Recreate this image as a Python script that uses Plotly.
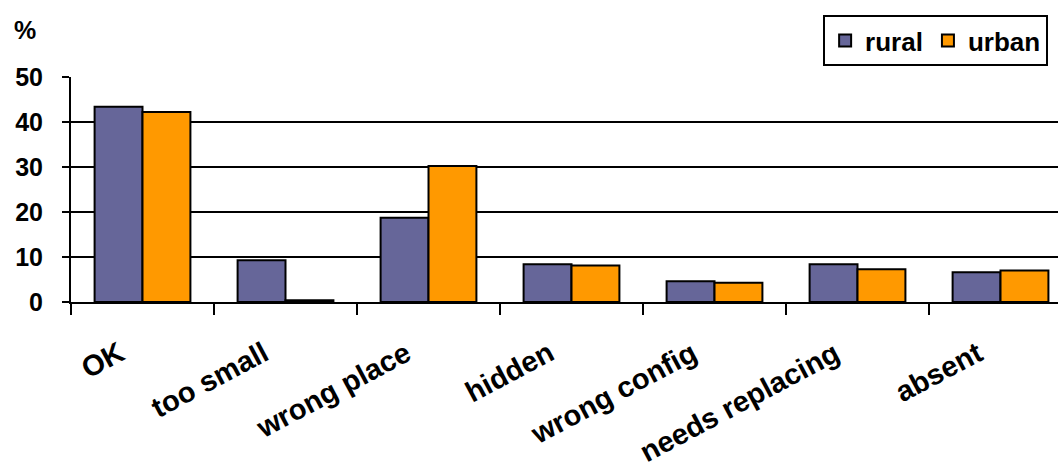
import plotly.graph_objects as go

categories = ["OK", "too small", "wrong place", "hidden", "wrong config", "needs replacing", "absent"]
rural = [43.4, 9.3, 18.7, 8.4, 4.6, 8.4, 6.6]
urban = [42.2, 0.4, 30.2, 8.1, 4.3, 7.3, 7.0]
y_ticks = [0, 10, 20, 30, 40, 50]

FONT = "Liberation Sans, Arial, sans-serif"
BOLD = dict(family=FONT, color="black", weight="bold")

fig = go.Figure()
fig.add_trace(go.Bar(
    name="rural", x=categories, y=rural,
    marker=dict(color="#666699", line=dict(color="black", width=2)),
))
fig.add_trace(go.Bar(
    name="urban", x=categories, y=urban,
    marker=dict(color="#FF9900", line=dict(color="black", width=2)),
))

# slanted category labels, hung from the upper-right corner just left of each category centre
cat_labels = [
    dict(text=c, x=c, xref="x", y=-0.138, yref="paper",
         xanchor="right", yanchor="top", xshift=-10, textangle=-28,
         showarrow=False, font=dict(size=29, **BOLD))
    for c in categories
]

fig.update_layout(
    width=1058, height=467,
    margin=dict(l=71, r=0, t=77, b=165, autoexpand=False),
    paper_bgcolor="white", plot_bgcolor="white",
    barmode="group", bargap=0.33, bargroupgap=0,
    font=dict(family=FONT, size=24, color="black"),
    showlegend=True,
    legend=dict(
        orientation="h", xref="container", yref="container",
        x=0.778, xanchor="left", y=1 - 15 / 467, yanchor="top",
        bgcolor="white", bordercolor="black", borderwidth=2,
        font=dict(size=26, **BOLD),
        itemwidth=30, traceorder="normal", tracegroupgap=0,
    ),
    xaxis=dict(
        type="category", range=[-0.5, 6.402],
        showline=True, linecolor="black", linewidth=2,
        ticks="outside", tickson="boundaries", ticklen=11, tickwidth=2, tickcolor="black",
        showgrid=False, showticklabels=False,
    ),
    yaxis=dict(
        range=[0, 50], tickvals=y_ticks,
        showline=True, linecolor="black", linewidth=2,
        ticks="outside", ticklen=7, tickwidth=2, tickcolor="black",
        showgrid=True, gridcolor="black", gridwidth=2,
        zeroline=False, ticklabelstandoff=14,
        tickfont=dict(size=25, **BOLD),
    ),
    annotations=[dict(
        text="%", xref="paper", yref="paper", x=-0.06, y=1.21,
        xanchor="left", yanchor="middle", showarrow=False,
        font=dict(size=25, **BOLD),
    )] + cat_labels,
)

fig.write_html("out.html")
